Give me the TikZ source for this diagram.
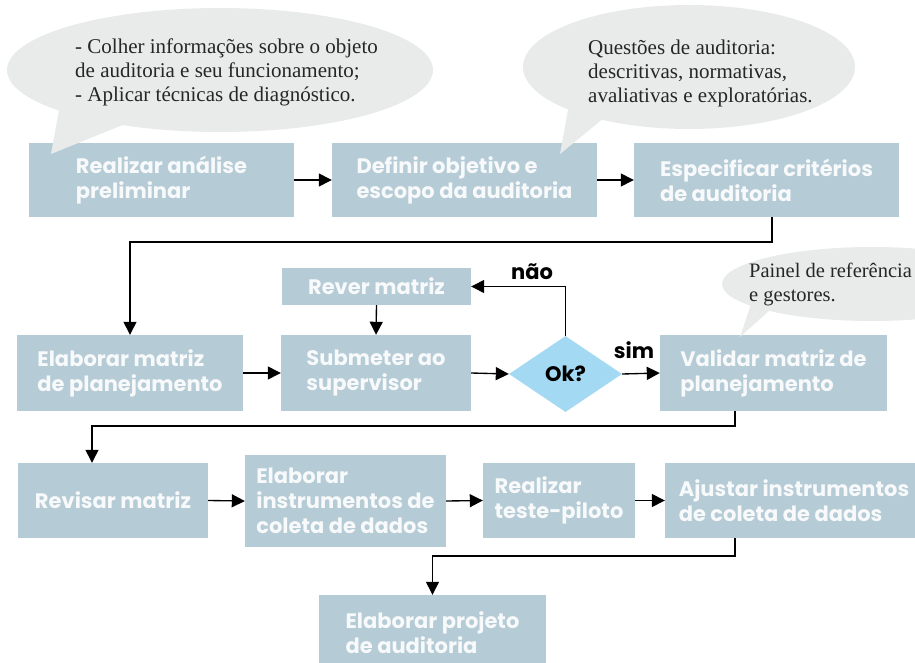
\documentclass[tikz,border=0pt]{standalone}
\usepackage{fontspec}
\setmainfont{Liberation Serif}
\newfontfamily\boxfont{Poppins}
\usetikzlibrary{shapes.geometric,arrows.meta}
\definecolor{boxc}{HTML}{B5CBD6}
\definecolor{bubc}{HTML}{E9EBEA}
\definecolor{diac}{HTML}{A3D9F2}
\definecolor{boxtxt}{HTML}{F7F9FA}
\begin{document}
\begin{tikzpicture}[x=1pt,y=-1pt,
  stepbox/.style={rectangle, fill=boxc, text=boxtxt, align=left, inner sep=0pt,
    font=\boxfont\bfseries\fontsize{21}{25}\selectfont},
  conn/.style={line width=1.35pt, -{Triangle[length=13pt,width=13pt]}},
  bubble/.style={fill=bubc},
  bubtext/.style={font=\fontsize{21}{24}\selectfont, align=left, inner sep=0pt, anchor=west, text=black!85},
  lbl/.style={font=\boxfont\bfseries\fontsize{21}{25}\selectfont, inner sep=0pt}
]
\useasboundingbox (0,0) rectangle (915,663);
\clip (0,0) rectangle (915,663);

% boxes
\node[stepbox, minimum width=265pt, minimum height=74pt] (b1) at (161.5,180) {Realizar análise\\preliminar};
\node[stepbox, minimum width=265pt, minimum height=74pt] (b2) at (464.5,180) {Definir objetivo e\\escopo da auditoria};
\node[stepbox, minimum width=265pt, minimum height=74pt] (b3) at (766.5,180) {Especificar critérios\\de auditoria};
\node[stepbox, minimum width=226pt, minimum height=76pt] (b4) at (130,373) {Elaborar matriz\\de planejamento};
\node[stepbox, minimum width=189pt, minimum height=37pt] (rever) at (376.5,286.5) {Rever matriz};
\node[stepbox, minimum width=190pt, minimum height=76pt] (b5) at (376,373) {Submeter ao\\supervisor};
\node[diamond, fill=diac, minimum width=113pt, minimum height=76pt, inner sep=0pt,
  font=\boxfont\bfseries\fontsize{21}{25}\selectfont] (d) at (565.5,374) {Ok?};
\node[stepbox, minimum width=227pt, minimum height=76pt] (b6) at (773.5,373) {Validar matriz de\\planejamento};
\node[stepbox, minimum width=190pt, minimum height=75pt] (r1) at (113,500.5) {Revisar matriz};
\node[stepbox, minimum width=201pt, minimum height=92pt] (r2) at (345.5,501) {Elaborar\\instrumentos de\\coleta de dados};
\node[stepbox, minimum width=152pt, minimum height=75pt] (r3) at (559,500.5) {Realizar\\teste-piloto};
\node[stepbox, minimum width=258pt, minimum height=75pt] (r4) at (794,500.5) {Ajustar instrumentos\\de coleta de dados};
\node[stepbox, minimum width=227pt, minimum height=76pt] (r5) at (432.5,633) {Elaborar projeto\\de auditoria};

% connectors
\draw[conn] (b1.east) -- (b2.west);
\draw[conn] (b2.east) -- (b3.west);
\coordinate (k1) at (772,242);
\coordinate (k1b) at (130,242);
\draw[conn] (b3.south -| k1) -- (k1) -- (k1b) -- (b4.north);
\draw[conn] (b4.east) -- (b5.west);
\draw[conn] (rever.south) -- (b5.north);
\draw[conn] (b5.east) -- (d.west);
\draw[conn] (d.east) -- (b6.west);
\draw[conn] (d.north) |- (rever.east);
\coordinate (k2) at (735,426);
\coordinate (k3) at (92,426);
\draw[conn] (b6.south -| k2) -- (k2) -- (k3) -- (r1.north -| k3);
\draw[conn] (r1.east) -- (r2.west);
\draw[conn] (r2.east) -- (r3.west);
\draw[conn] (r3.east) -- (r4.west);
\coordinate (k4) at (735,556);
\coordinate (k5) at (432.5,556);
\draw[conn] (r4.south -| k4) -- (k4) -- (k5) -- (r5.north);

\node[lbl] (nao) at (532,272) {não};
\node[lbl] (sim) at (634,350) {sim};

% bubbles
\fill[bubble] (220,70) ellipse [x radius=213, y radius=62];
\fill[bubble] (51,154) -- (60,104) -- (140,118) -- cycle;
\fill[bubble] (689,67) ellipse [x radius=166, y radius=62];
\fill[bubble] (560,154) -- (569,104) -- (610,113) -- cycle;
\fill[bubble] (872,284) ellipse [x radius=150, y radius=37];
\fill[bubble] (740,337) -- (753,298) -- (780,301) -- cycle;

\node[bubtext] (t1) at (75,72) {- Colher informações sobre o objeto\\de auditoria e seu funcionamento;\\- Aplicar técnicas de diagnóstico.};
\node[bubtext] (t2) at (588,73) {Questões de auditoria:\\descritivas, normativas,\\avaliativas e exploratórias.};
\node[bubtext, font=\fontsize{20.5}{24}\selectfont] (t3) at (749,284) {Painel de referência\\e gestores.};
\end{tikzpicture}
\end{document}
